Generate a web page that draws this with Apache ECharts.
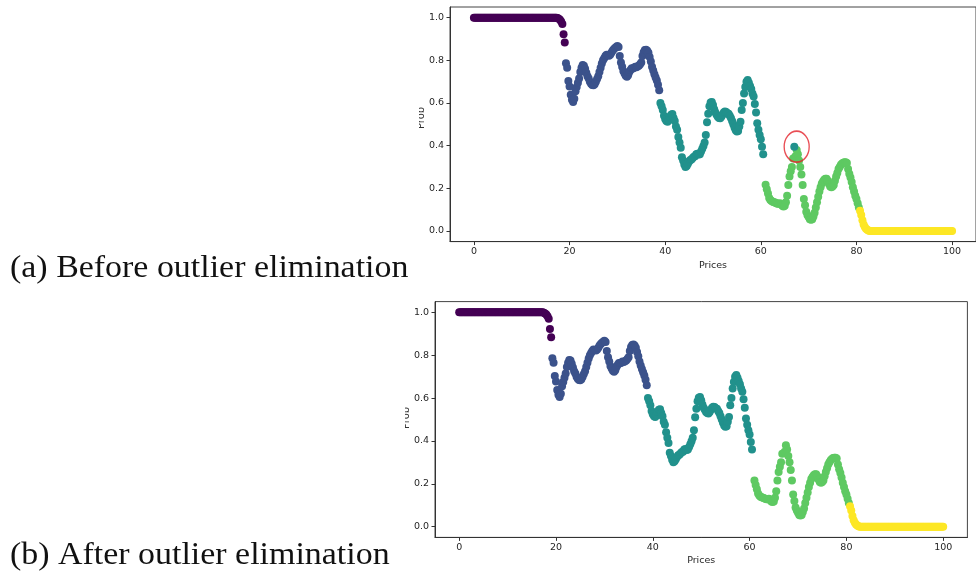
<!DOCTYPE html>
<html>
<head>
<meta charset="utf-8">
<title>Outlier elimination</title>
<script src="https://cdn.jsdelivr.net/npm/echarts@6.0.0/dist/echarts.min.js"></script>
<style>
html, body { margin: 0; padding: 0; background: #fff; }
#container { width: 976px; height: 580px; }
</style>
</head>
<body>
<div id="container"></div>
<script>
// sampling step of the price axis (points are read every 0.25)
var priceStep = 0.25;

// cluster 1 (purple) starts at price 0
var purpleStart = 0;
var purpleProb = [
	1, 1, 1, 1, 1, 1, 1, 1, 1, 1, 1, 1, 1, 1, 1, 1, 1, 1, 1, 1,
	1, 1, 1, 1, 1, 1, 1, 1, 1, 1, 1, 1, 1, 1, 1, 1, 1, 1, 1, 1,
	1, 1, 1, 1, 1, 1, 1, 1, 1, 1, 1, 1, 1, 1, 1, 1, 1, 1, 1, 1,
	1, 1, 1, 1, 1, 1, 1, 1, 1,
	1, 0.998, 0.995, 0.99, 0.982, 0.97, 0.922, 0.884
];

// cluster 2 (blue)
var blueStart = 19.25;
var blueProb = [
	0.786, 0.765, 0.703, 0.677, 0.638, 0.615, 0.605, 0.62, 0.655, 0.675,
	0.695, 0.715, 0.745, 0.765, 0.778, 0.775, 0.76, 0.742, 0.725, 0.715,
	0.70, 0.69, 0.684, 0.683, 0.688, 0.70, 0.712, 0.725, 0.745, 0.765,
	0.785, 0.80, 0.81, 0.82, 0.826, 0.824, 0.822, 0.826, 0.835, 0.845,
	0.852, 0.858, 0.863, 0.867, 0.862, 0.82, 0.79, 0.77, 0.75, 0.738,
	0.728, 0.723, 0.73, 0.745, 0.755, 0.763, 0.762, 0.765, 0.77, 0.768,
	0.772, 0.775, 0.782, 0.79, 0.82, 0.838, 0.848, 0.85, 0.845, 0.835,
	0.815, 0.795, 0.77, 0.752, 0.735, 0.72, 0.705, 0.685, 0.66
];

// cluster 3 (teal)
var tealStart = 39;
var tealProb = [
	0.60, 0.585, 0.567, 0.54, 0.525, 0.515, 0.512, 0.52, 0.535, 0.545,
	0.548, 0.53, 0.515, 0.49, 0.475, 0.44, 0.415, 0.39, 0.345, 0.33,
	0.312, 0.30, 0.305, 0.315, 0.325, 0.333, 0.335, 0.342, 0.348, 0.35,
	0.36, 0.362, 0.358, 0.36, 0.372, 0.385, 0.398, 0.415, 0.45, 0.51,
	0.55, 0.585, 0.602, 0.605, 0.59, 0.57, 0.555, 0.545, 0.535, 0.53,
	0.528, 0.535, 0.545, 0.555, 0.56, 0.558, 0.552, 0.55, 0.54, 0.53,
	0.515, 0.50, 0.485, 0.472, 0.466, 0.468, 0.49, 0.512, 0.567, 0.60,
	0.645, 0.675, 0.70, 0.708, 0.695, 0.68, 0.665, 0.645, 0.63, 0.595,
	0.555, 0.505, 0.475, 0.45, 0.43, 0.395, 0.36
];

// cluster 4 (green), null = the outlier slot at price 67
var greenStart = 61;
var greenProb = [
	0.216, 0.195, 0.175, 0.155, 0.145, 0.14, 0.137, 0.135, 0.133, 0.13,
	0.128, 0.128, 0.13, 0.125, 0.118, 0.115, 0.118, 0.135, 0.165, 0.215,
	0.255, 0.28, 0.30, 0.34, null, 0.35, 0.38, 0.36, 0.33, 0.30,
	0.265, 0.215, 0.15, 0.12, 0.09, 0.075, 0.065, 0.055, 0.052, 0.055,
	0.068, 0.085, 0.11, 0.135, 0.16, 0.185, 0.205, 0.222, 0.232, 0.24,
	0.245, 0.245, 0.235, 0.22, 0.208, 0.205, 0.208, 0.215, 0.235, 0.255,
	0.272, 0.29, 0.30, 0.31, 0.316, 0.32, 0.322, 0.322, 0.318, 0.29,
	0.268, 0.25, 0.23, 0.205, 0.185, 0.165, 0.15, 0.13, 0.11
];

// cluster 5 (yellow)
var yellowStart = 80.75;
var yellowProb = [
	0.095, 0.075, 0.05, 0.03, 0.018, 0.01, 0.005, 0.002,
	0, 0, 0, 0, 0, 0, 0, 0, 0, 0, 0, 0, 0, 0, 0, 0, 0, 0, 0, 0,
	0, 0, 0, 0, 0, 0, 0, 0, 0, 0, 0, 0, 0, 0, 0, 0, 0, 0, 0, 0,
	0, 0, 0, 0, 0, 0, 0, 0, 0, 0, 0, 0, 0, 0, 0, 0, 0, 0, 0, 0,
	0, 0, 0, 0, 0, 0, 0, 0, 0, 0
];

// the point that sat in the wrong cluster (teal) before elimination
var outlierPoint = [67, 0.395];
// red ring drawn round it
var ringCenter = [67.5, 0.395];

var priceTicks = [0, 20, 40, 60, 80, 100];
var probTicks = [0, 0.2, 0.4, 0.6, 0.8, 1.0];

var clusterColors = ['#440154', '#3b528b', '#21918c', '#5ec962', '#fde725'];

function toPoints(start, values) {
	var pts = [];
	for (var i = 0; i < values.length; i++) {
		if (values[i] === null) continue;
		pts.push([start + i * priceStep, values[i]]);
	}
	return pts;
}

var purplePts = toPoints(purpleStart, purpleProb);
var bluePts = toPoints(blueStart, blueProb);
var tealPts = toPoints(tealStart, tealProb);
var greenPts = toPoints(greenStart, greenProb);
var yellowPts = toPoints(yellowStart, yellowProb);

var tickFont = {
	fontFamily: 'DejaVu Sans',
	fontSize: 9.5,
	color: '#262626'
};

function xAxisFor(idx, gap) {
	return {
		gridIndex: idx,
		type: 'value',
		min: -5,
		max: 105,
		name: 'Prices',
		nameLocation: 'middle',
		nameGap: gap,
		nameTextStyle: tickFont,
		splitLine: { show: false },
		axisLine: { show: true, onZero: false, lineStyle: { color: '#333', width: 1 } },
		axisTick: { show: true, length: 3.5, customValues: priceTicks, lineStyle: { color: '#333' } },
		axisLabel: {
			customValues: priceTicks,
			margin: 5,
			fontFamily: tickFont.fontFamily,
			fontSize: tickFont.fontSize,
			color: tickFont.color
		}
	};
}

function yAxisFor(idx) {
	return {
		gridIndex: idx,
		type: 'value',
		min: -0.05,
		max: 1.05,
		splitLine: { show: false },
		axisLine: { show: true, onZero: false, lineStyle: { color: '#333', width: 1 } },
		axisTick: { show: true, length: 3.5, customValues: probTicks, lineStyle: { color: '#333' } },
		axisLabel: {
			customValues: probTicks,
			margin: 6,
			fontFamily: tickFont.fontFamily,
			fontSize: tickFont.fontSize,
			color: tickFont.color,
			formatter: function(v) {
				return v.toFixed(1);
			}
		}
	};
}

function dots(name, data, color, idx) {
	return {
		name: name,
		type: 'scatter',
		xAxisIndex: idx,
		yAxisIndex: idx,
		data: data,
		symbol: 'circle',
		symbolSize: 8,
		itemStyle: { color: color, opacity: 1 },
		silent: true
	};
}

var myChart = echarts.init(document.getElementById('container'), null, { renderer: 'canvas' });

var option = {
	animation: false,
	backgroundColor: '#fff',
	grid: [
		{ left: 450, top: 7, width: 531, height: 234.6, show: true, borderColor: '#444', borderWidth: 1 },
		{ left: 435, top: 301.6, width: 532.4, height: 235.8, show: true, borderColor: '#444', borderWidth: 1 }
	],
	xAxis: [xAxisFor(0, 19), xAxisFor(1, 18.5)],
	yAxis: [yAxisFor(0), yAxisFor(1)],
	series: [
		// (a) before
		dots('c1', purplePts, clusterColors[0], 0),
		dots('c2', bluePts, clusterColors[1], 0),
		dots('c3', tealPts, clusterColors[2], 0),
		dots('c4', greenPts, clusterColors[3], 0),
		dots('c5', yellowPts, clusterColors[4], 0),
		// outlier still carries the teal label here
		dots('outlier', [outlierPoint], clusterColors[2], 0),
		{
			type: 'scatter',
			xAxisIndex: 0,
			yAxisIndex: 0,
			data: [ringCenter],
			symbol: 'circle',
			symbolSize: [25, 31],
			itemStyle: { color: 'rgba(0,0,0,0)', borderColor: '#e3222a', borderWidth: 1.5 },
			z: 10,
			silent: true
		},
		// (b) after
		dots('c1', purplePts, clusterColors[0], 1),
		dots('c2', bluePts, clusterColors[1], 1),
		dots('c3', tealPts, clusterColors[2], 1),
		dots('c4', greenPts, clusterColors[3], 1),
		dots('c5', yellowPts, clusterColors[4], 1)
	],
	graphic: [
		// y labels, mostly hidden behind the caption column
		{ type: 'text', x: 421, y: 118, rotation: Math.PI / 2, z: 1,
			style: { text: 'Prob', fill: '#333', font: '10px "DejaVu Sans"', textAlign: 'center', textVerticalAlign: 'middle' } },
		{ type: 'rect', shape: { x: 390, y: 90, width: 29, height: 60 }, style: { fill: '#fff' }, z: 2 },
		{ type: 'text', x: 406, y: 418, rotation: Math.PI / 2, z: 1,
			style: { text: 'Prob', fill: '#333', font: '10px "DejaVu Sans"', textAlign: 'center', textVerticalAlign: 'middle' } },
		{ type: 'rect', shape: { x: 375, y: 390, width: 30, height: 60 }, style: { fill: '#fff' }, z: 2 },
		// captions
		{ type: 'text', x: 10, y: 269, scaleX: 1.06, z: 3,
			style: { text: '(a) Before outlier elimination', fill: '#111', font: '32px "Liberation Serif"', textAlign: 'left', textVerticalAlign: 'middle' } },
		{ type: 'text', x: 10, y: 556, scaleX: 1.06, z: 3,
			style: { text: '(b) After outlier elimination', fill: '#111', font: '32px "Liberation Serif"', textAlign: 'left', textVerticalAlign: 'middle' } }
	]
};

myChart.setOption(option);
</script>
</body>
</html>
